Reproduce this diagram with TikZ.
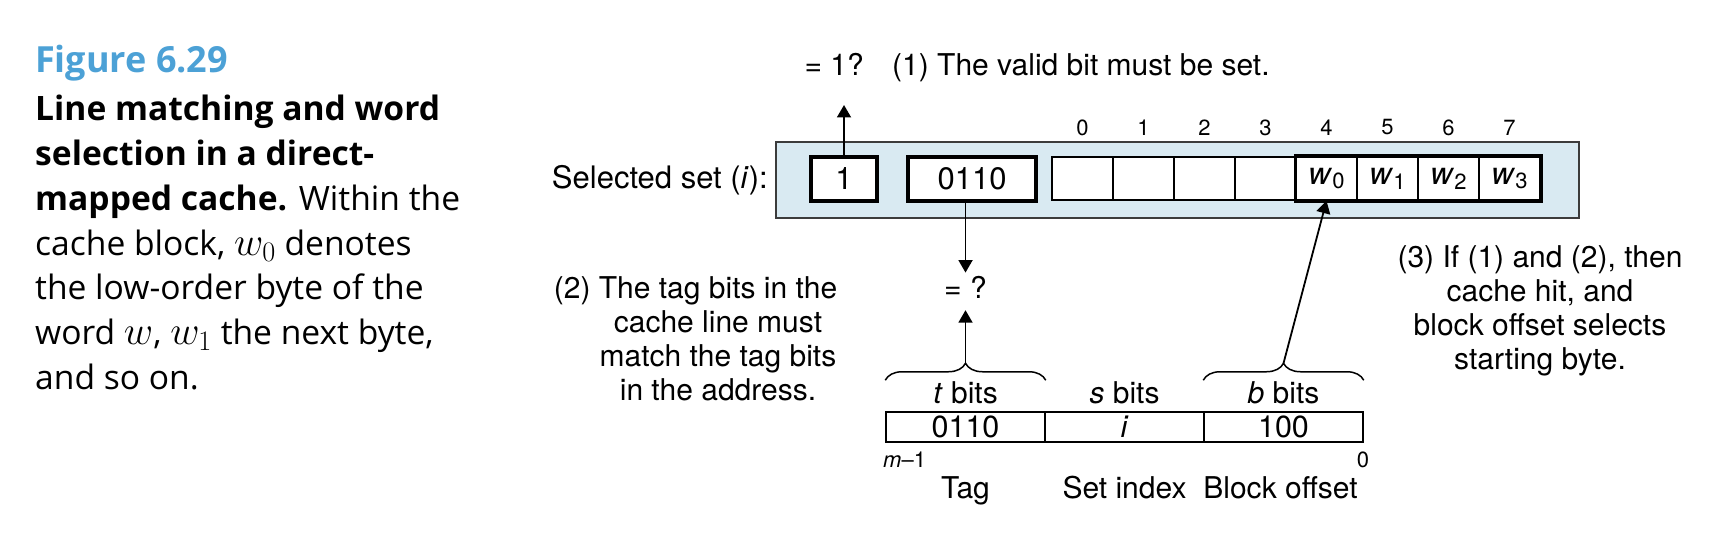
\RequirePackage{fix-cm}
\documentclass[tikz,border=0pt]{standalone}
\usepackage[no-math]{fontspec}
\setmainfont{TeX Gyre Heros}
\newfontfamily\capfont{Open Sans}
\usepackage{tikz}
\usetikzlibrary{positioning}
\usetikzlibrary{arrows.meta}
\usetikzlibrary{decorations.pathreplacing}
\definecolor{figblue}{RGB}{76,161,214}
\definecolor{setblue}{RGB}{217,234,242}
\definecolor{rimgray}{RGB}{60,60,60}
\newcommand{\fs}[1]{\fontsize{#1}{#1}\selectfont}
\newcommand{\wsub}[1]{\textit{w}\raisebox{-0.3ex}{\fs{22}#1}}
\newcommand{\mw}[1]{\scalebox{1.2}{$#1$}}

\begin{document}
\begin{tikzpicture}[x=1pt,y=-1pt,>={Triangle[length=12.5pt,width=14pt]},node distance=61pt,on grid,
		txt/.style={inner sep=0pt,font=\fs{30}},
		setbox/.style={draw=rimgray,line width=1.4pt,fill=setblue,minimum width=803pt,minimum height=76pt},
		bitbox/.style={draw,line width=3.5pt,fill=white,minimum height=44pt,font=\fs{31}},
		cell/.style={draw,line width=1.5pt,fill=white,minimum width=61pt,minimum height=43pt,inner sep=0pt,font=\fs{31}},
		idx/.style={inner sep=0pt,font=\fs{22}},
		field/.style={draw,line width=1.5pt,fill=white,minimum width=159pt,minimum height=30pt,inner sep=0pt,font=\fs{30.5}},
		brc/.style={decorate,decoration={brace,amplitude=17pt},line width=1.5pt},
		arr/.style={->,line width=1.8pt}]
		\useasboundingbox (0,0) rectangle (1736,556);
		
		\node[anchor=base west,inner sep=0pt,text=figblue,font=\capfont\bfseries\fs{36}] (figno) at (35,73) {Figure 6.29};
		\node[anchor=north west,inner sep=0pt,align=left,font=\capfont\fontsize{33.6}{44.8}\selectfont] (caption) at (35,95)
		{\textbf{Line matching and word}\\ \textbf{selection in a direct-}\\ \textbf{mapped cache.} Within the\\
			cache block, \mw{w_0} denotes\\ the low-order byte of the\\ word \mw{w}, \mw{w_1} the next byte,\\ and so on.};
		
		\node[setbox]  (set)     at (1177.5,180) {};
		\node[txt,font=\fs{31},anchor=base east] (setlbl) at (768,189) {Selected set (\textit{i}):};
		\node[bitbox,minimum width=66pt]  (valid)  at (844,179) {1};
		\node[bitbox,minimum width=128pt] (tagbox) at (972,179) {0110};
		\node[cell]    (c0)      at (1082.5,178.5) {};
		\foreach \i [remember=\i as \p (initially 0)] in {1,2,3}
		\node[cell,right=of c\p] (c\i) {};
		\foreach \i [remember=\i as \p (initially 3),evaluate=\i as \k using int(\i-4)] in {4,...,7}
		\node[cell,right=of c\p] (c\i) {\wsub{\k}};
		\draw[line width=3.5pt] (c4.north west) rectangle (c7.south east);
		\foreach \i in {0,...,7}
		\node[idx,above=51pt of c\i] (n\i) {\i};
		
		\node[txt,anchor=base east] (eq1)   at (864,76) {= 1?};
		\node[txt,anchor=base west] (note1) at (892,76) {(1) The valid bit must be set.};
		\coordinate (up1) at (844,105);
		\draw[arr] (valid.north) -- (up1);
		
		\node[field]   (tf)      at (965.5,427) {0110};
		\node[field,right=159pt of tf] (sf) {\textit{i}};
		\node[field,right=159pt of sf] (bf) {100};
		\node[txt,above=24pt of tf,anchor=base] (tbits) {\textit{t} bits};
		\node[txt,above=24pt of sf,anchor=base] (sbits) {\textit{s} bits};
		\node[txt,above=24pt of bf,anchor=base] (bbits) {\textit{b} bits};
		\node[txt,below=71pt of tf,anchor=base] (tagname) {Tag};
		\node[txt,below=71pt of sf,anchor=base] (setname) {Set index};
		\node[txt,below=71pt of bf,anchor=base,xshift=-3pt] (offname) {Block offset};
		\node[idx,anchor=base west] (msb) at (883,467) {\textit{m}--1};
		\node[idx,anchor=base] (lsb) at (1363,467) {0};
		
		\draw[brc] ([yshift=31pt]tf.north west) -- ([yshift=31pt]tf.north east);
		\draw[brc] ([yshift=31pt]bf.north west) -- ([yshift=31pt]bf.north east);
		\coordinate (ttip) at ([yshift=48pt]tf.north);
		\coordinate (btip) at ([yshift=48pt]bf.north);
		
		\node[txt,anchor=base] (eqq) at (965.5,298) {= ?};
		\draw[arr] (tagbox.south -| eqq) -- ([yshift=3pt]eqq.north);
		\draw[arr] (ttip) -- ([yshift=-12pt]eqq.south);
		\draw[arr] (btip) -- (c4.south);
		
		\node[txt,align=center,anchor=north,font=\fontsize{30}{34}\selectfont] (note2) at (718,276)
		{\llap{(2) }The tag bits in the\\cache line must\\match the tag bits\\in the address.};
		\node[txt,align=center,anchor=north,font=\fontsize{30}{34}\selectfont] (note3) at (1540,245)
		{(3) If (1) and (2), then\\cache hit, and\\block offset selects\\starting byte.};
\end{tikzpicture}
\end{document}
